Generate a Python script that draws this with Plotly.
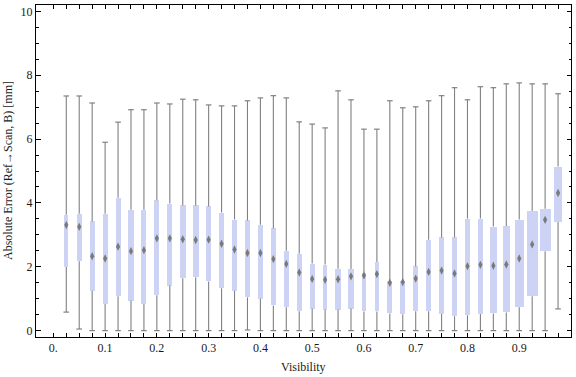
import plotly.graph_objects as go

# ---- data ----
visibility = [0.025, 0.05, 0.075, 0.1, 0.125, 0.15, 0.175, 0.2, 0.225, 0.25,
              0.275, 0.3, 0.325, 0.35, 0.375, 0.4, 0.425, 0.45, 0.475, 0.5,
              0.525, 0.55, 0.575, 0.6, 0.625, 0.65, 0.675, 0.7, 0.725, 0.75,
              0.775, 0.8, 0.825, 0.85, 0.875, 0.9, 0.925, 0.95, 0.975]
upper = [7.35, 7.35, 7.13, 5.90, 6.53, 6.92, 6.92, 7.13, 7.10, 7.25,
         7.23, 7.07, 7.04, 7.04, 7.20, 7.29, 7.36, 7.29, 6.54, 6.47,
         6.35, 7.51, 7.23, 6.31, 6.31, 7.20, 6.98, 7.01, 7.20, 7.36,
         7.61, 7.23, 7.64, 7.61, 7.73, 7.76, 7.73, 7.73, 7.42]
q3 = [3.63, 3.66, 3.42, 3.66, 4.16, 3.79, 3.79, 4.08, 3.98, 3.92,
      3.92, 3.89, 3.70, 3.48, 3.45, 3.32, 3.20, 2.50, 2.41, 2.10,
      2.07, 1.94, 1.93, 1.82, 2.15, 1.57, 1.56, 2.01, 2.85, 2.92,
      2.92, 3.51, 3.51, 3.26, 3.28, 3.48, 3.75, 3.82, 5.14]
median = [3.31, 3.25, 2.33, 2.26, 2.63, 2.49, 2.52, 2.89, 2.89, 2.86,
          2.84, 2.85, 2.72, 2.54, 2.43, 2.43, 2.24, 2.09, 1.82, 1.62,
          1.59, 1.61, 1.70, 1.73, 1.77, 1.50, 1.52, 1.63, 1.84, 1.88,
          1.79, 2.02, 2.06, 2.03, 2.07, 2.26, 2.70, 3.47, 4.31]
q1 = [1.99, 2.17, 1.25, 0.83, 1.08, 0.94, 0.83, 1.11, 1.41, 1.64,
      1.67, 1.54, 1.33, 1.25, 1.04, 1.00, 0.79, 0.73, 0.61, 0.69,
      0.66, 0.66, 0.69, 0.60, 0.60, 0.54, 0.51, 0.61, 0.61, 0.52,
      0.45, 0.48, 0.52, 0.54, 0.57, 0.73, 1.08, 2.49, 3.40]
lower = [0.58, 0.05, 0.0, 0.0, 0.0, 0.0, 0.0, 0.0, 0.0, 0.0,
         0.0, 0.0, 0.0, 0.0, 0.02, 0.0, 0.0, 0.0, 0.0, 0.0,
         0.0, 0.0, 0.0, 0.0, 0.0, 0.0, 0.0, 0.0, 0.0, 0.0,
         0.0, 0.0, 0.0, 0.0, 0.0, 0.0, 0.0, 0.0, 0.68]
# relative box widths (in visibility units)
box_width = [0.0075, 0.0095, 0.0100, 0.0095, 0.0095, 0.0100, 0.0095, 0.0100, 0.0100, 0.0115,
             0.0115, 0.0105, 0.0105, 0.0105, 0.0100, 0.0100, 0.0100, 0.0100, 0.0100, 0.0100,
             0.0090, 0.0100, 0.0100, 0.0085, 0.0085, 0.0090, 0.0090, 0.0090, 0.0100, 0.0100,
             0.0100, 0.0105, 0.0105, 0.0135, 0.0135, 0.0175, 0.0210, 0.0210, 0.0155]

x_tickvals = [0.0, 0.025, 0.05, 0.075, 0.1, 0.125, 0.15, 0.175, 0.2, 0.225, 0.25,
              0.275, 0.3, 0.325, 0.35, 0.375, 0.4, 0.425, 0.45, 0.475, 0.5,
              0.525, 0.55, 0.575, 0.6, 0.625, 0.65, 0.675, 0.7, 0.725, 0.75,
              0.775, 0.8, 0.825, 0.85, 0.875, 0.9, 0.925, 0.95, 0.975]
x_ticktext = ["0.", "", "", "", "0.1", "", "", "", "0.2", "", "", "", "0.3", "", "", "",
              "0.4", "", "", "", "0.5", "", "", "", "0.6", "", "", "", "0.7", "", "", "",
              "0.8", "", "", "", "0.9", "", "", ""]
y_tickvals = [0, 2, 4, 6, 8, 10]
y_ticktext = ["0", "2", "4", "6", "8", "10"]

WHISKER = "#808080"
BOXFILL = "rgb(205,211,245)"
FONT = "Liberation Serif"
TXT = "#1a1a1a"

fig = go.Figure()

# interquartile boxes
fig.add_trace(go.Bar(
    x=visibility, base=q1, y=[a - b for a, b in zip(q3, q1)],
    width=box_width, marker=dict(color=BOXFILL, line=dict(width=0)),
    showlegend=False))

# whiskers: q3 -> upper and lower -> q1 (never crossing the box)
wx, wy = [], []
for v, lo, a, b, hi in zip(visibility, lower, q1, q3, upper):
    wx += [v, v, None, v, v, None]
    wy += [b, hi, None, lo, a, None]
fig.add_trace(go.Scatter(
    x=wx, y=wy, mode="lines", line=dict(color=WHISKER, width=1.1),
    hoverinfo="skip", showlegend=False))

# whisker caps
fig.add_trace(go.Scatter(
    x=visibility + visibility, y=upper + lower, mode="markers",
    marker=dict(symbol="line-ew", size=4, line=dict(color=WHISKER, width=1.2)),
    hoverinfo="skip", showlegend=False))

# medians
fig.add_trace(go.Scatter(
    x=visibility, y=median, mode="markers",
    marker=dict(symbol="diamond-tall", size=6, color="#7a7a7a", line=dict(width=0)),
    showlegend=False))

fig.update_layout(
    width=576, height=377,
    margin=dict(l=36, r=5, t=5, b=40, pad=0),
    paper_bgcolor="white", plot_bgcolor="white",
    barmode="overlay", bargap=0,
    font=dict(family=FONT, size=12, color=TXT),
    xaxis=dict(range=[-0.0335, 1.0], tickvals=x_tickvals, ticktext=x_ticktext,
               ticks="inside", ticklen=4, tickwidth=1, tickcolor="black",
               showline=True, linecolor="black", linewidth=1, mirror="allticks",
               showgrid=False, zeroline=False, tickfont=dict(family=FONT, size=12, color=TXT)),
    yaxis=dict(range=[-0.2, 10.2], tickvals=y_tickvals, ticktext=y_ticktext,
               ticks="inside", ticklen=4.5, tickwidth=1, tickcolor="black",
               minor=dict(dtick=0.5, tick0=0, ticks="inside", ticklen=2.5,
                          tickcolor="black", tickwidth=1, showgrid=False),
               showline=True, linecolor="black", linewidth=1, mirror="allticks",
               showgrid=False, zeroline=False, tickfont=dict(family=FONT, size=12, color=TXT)),
    annotations=[
        dict(text="Visibility", xref="paper", yref="paper", x=0.5, y=0,
             xanchor="center", yanchor="middle", yshift=-30, showarrow=False,
             font=dict(family=FONT, size=12, color=TXT)),
        dict(text="Absolute Error (Ref\u2192Scan, B) [mm]", xref="paper", yref="paper",
             x=0, y=0.5, xanchor="center", yanchor="middle", xshift=-28, textangle=-90,
             showarrow=False, font=dict(family=FONT, size=12, color=TXT)),
    ],
)

fig.write_html("out.html", config={"displayModeBar": False},
               post_script="document.body.style.margin='0';document.body.style.padding='0';")
